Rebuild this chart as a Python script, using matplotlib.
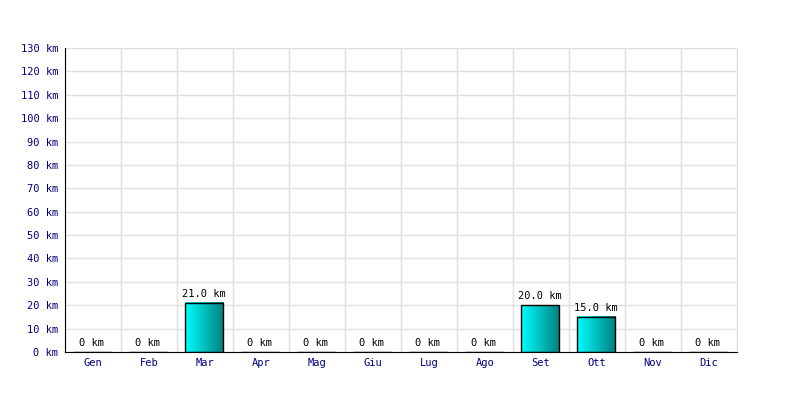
import numpy as np
import matplotlib
matplotlib.use('Agg')
import matplotlib.pyplot as plt

mesi = ['Gen', 'Feb', 'Mar', 'Apr', 'Mag', 'Giu', 'Lug', 'Ago', 'Set', 'Ott', 'Nov', 'Dic']
km = [0, 0, 21.0, 0, 0, 0, 0, 0, 20.0, 15.0, 0, 0]
yticks = list(range(0, 131, 10))

plt.rcParams['font.family'] = ['DejaVu Sans Mono']

fig = plt.figure(figsize=(8, 4), dpi=100)
ax = fig.add_axes([65/800, 48/400, 672/800, 304/400])

x = np.arange(len(mesi))
w = 0.68
grad = np.linspace(0, 1, 256).reshape(1, -1)
cmap = matplotlib.colors.LinearSegmentedColormap.from_list('g', ['#00ffff', '#008080'])

bars = ax.bar(x - 0.02, km, width=w, facecolor='none', edgecolor='black', linewidth=1, zorder=3)
for b, v in zip(bars, km):
    if v > 0:
        x0 = b.get_x()
        ax.imshow(grad, cmap=cmap, aspect='auto', extent=[x0, x0 + w, 0, v], zorder=2)
    lab = '0 km' if v == 0 else f'{v:.1f} km'
    ax.annotate(lab, (b.get_x() + w/2, v), xytext=(0, 3), textcoords='offset points',
                ha='center', va='bottom', fontsize=7.5, color='black')

ax.set_xlim(-0.5, len(mesi) - 0.5)
ax.set_ylim(0, 130)
ax.set_xticks(x)
ax.set_xticklabels(mesi)
ax.set_xticks(np.arange(-0.5, len(mesi), 1), minor=True)
ax.set_yticks(yticks)
ax.set_yticklabels([f'{t} km' for t in yticks])
ax.tick_params(axis='both', which='both', length=0, labelsize=7.5, labelcolor='#000080')
ax.tick_params(axis='x', pad=4)
ax.tick_params(axis='y', pad=5)

ax.grid(axis='y', color='#e0e0e0', linewidth=1, zorder=0)
ax.grid(axis='x', which='minor', color='#e0e0e0', linewidth=1, zorder=0)
ax.set_axisbelow(True)
ax.spines['top'].set_visible(False)
ax.spines['right'].set_color('#e0e0e0')
ax.spines['left'].set_color('black')
ax.spines['bottom'].set_color('black')

fig.savefig('out.png', dpi=100)
